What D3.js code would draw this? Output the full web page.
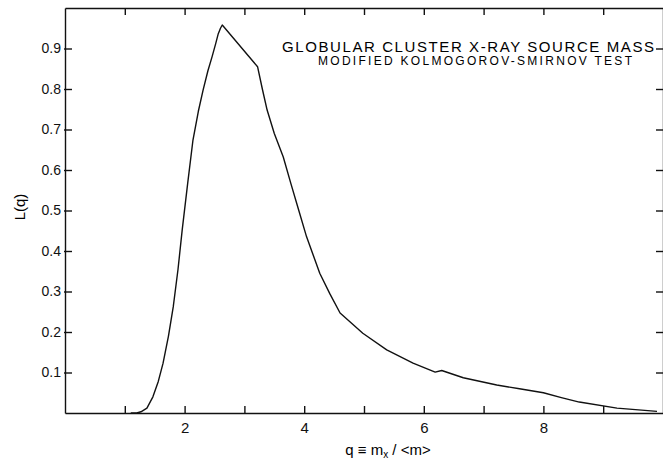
<!DOCTYPE html>
<html>
<head>
<meta charset="utf-8">
<script src="https://cdn.jsdelivr.net/npm/d3@7"></script>
<style>
  body { margin: 0; background: #fff; }
  svg { font-family: 'Liberation Sans', Arial, sans-serif; }
  .axis path, .axis line { stroke: #111; stroke-width: 1.4; }
  .axis text { fill: #111; }
</style>
</head>
<body>
<div id="chart"></div>
<script>
// values
const qValues = [1.10, 1.20, 1.27, 1.37, 1.47, 1.56, 1.64, 1.73, 1.81, 1.89, 1.96, 2.05, 2.14, 2.23, 2.31, 2.39, 2.46, 2.52, 2.56, 2.60, 2.63,
  3.22, 3.30, 3.38, 3.50, 3.65, 3.78, 3.90, 4.04, 4.15, 4.26, 4.43, 4.60,
  4.98, 5.38, 5.82, 6.19, 6.30, 6.66, 7.22, 7.60, 8.00, 8.30, 8.60, 9.23, 9.90];
const lValues = [0.000, 0.000, 0.003, 0.012, 0.040, 0.078, 0.123, 0.190, 0.262, 0.355, 0.452, 0.565, 0.674, 0.745, 0.798, 0.845, 0.880, 0.912, 0.935, 0.950, 0.958,
  0.855, 0.800, 0.748, 0.690, 0.632, 0.565, 0.505, 0.435, 0.390, 0.345, 0.294, 0.247,
  0.197, 0.156, 0.123, 0.101, 0.105, 0.087, 0.069, 0.060, 0.050, 0.038, 0.027, 0.012, 0.004];

const xTicks = [1, 2, 3, 4, 5, 6, 7, 8, 9];
const xLabels = [2, 4, 6, 8];
const yTicks = [0.1, 0.2, 0.3, 0.4, 0.5, 0.6, 0.7, 0.8, 0.9];

const title = 'GLOBULAR CLUSTER X-RAY SOURCE MASS';
const subtitle = 'MODIFIED KOLMOGOROV-SMIRNOV TEST';

const width = 663;
const height = 461;
const dim = { left: 65, right: 663, top: 8, bottom: 413, tick: 7 };

const svg = d3.select('#chart').append('svg')
  .attr('width', width)
  .attr('height', height);

const x = d3.scaleLinear().domain([0, 10]).range([dim.left, dim.right]);
const y = d3.scaleLinear().domain([0, 1]).range([dim.bottom, dim.top]);

// axes, ticks pointing inward on all four sides
svg.append('g')
  .attr('class', 'axis')
  .attr('transform', `translate(0, ${dim.bottom})`)
  .call(d3.axisBottom(x).tickValues(xTicks).tickSize(-dim.tick).tickSizeOuter(0).tickPadding(9)
    .tickFormat(d => xLabels.includes(d) ? d : ''))
  .call(g => g.selectAll('text').style('font-size', '15px'));

svg.append('g')
  .attr('class', 'axis')
  .attr('transform', `translate(0, ${dim.top})`)
  .call(d3.axisTop(x).tickValues(xTicks).tickSize(-dim.tick).tickSizeOuter(0).tickFormat(''));

svg.append('g')
  .attr('class', 'axis')
  .attr('transform', `translate(${dim.left}, 0)`)
  .call(d3.axisLeft(y).tickValues(yTicks).tickSize(-dim.tick).tickSizeOuter(0).tickPadding(4)
    .tickFormat(d3.format('.1f')))
  .call(g => g.selectAll('text').style('font-size', '14px'))
  .call(g => g.selectAll('.tick line').attr('x1', -1));

svg.append('g')
  .attr('class', 'axis')
  .attr('transform', `translate(${dim.right}, 0)`)
  .call(d3.axisRight(y).tickValues(yTicks).tickSize(-dim.tick).tickSizeOuter(0).tickFormat(''));

// curve
const line = d3.line()
  .x((d, i) => x(qValues[i]))
  .y(d => y(d))
  .curve(d3.curveLinear);

svg.append('path')
  .datum(lValues)
  .attr('d', line)
  .attr('fill', 'none')
  .attr('stroke', '#111')
  .attr('stroke-width', 1.4)
  .attr('stroke-linejoin', 'round');

// titles
svg.append('text')
  .attr('x', 282)
  .attr('y', 52)
  .attr('textLength', 372)
  .attr('lengthAdjust', 'spacing')
  .style('font-size', '15px')
  .text(title);

svg.append('text')
  .attr('x', 318)
  .attr('y', 65)
  .attr('textLength', 314)
  .attr('lengthAdjust', 'spacing')
  .style('font-size', '12px')
  .text(subtitle);

// axis titles
svg.append('text')
  .attr('transform', 'translate(25, 207) rotate(-90)')
  .attr('text-anchor', 'middle')
  .style('font-size', '15px')
  .text('L(q)');

const xTitle = svg.append('text')
  .attr('x', 388)
  .attr('y', 455)
  .attr('text-anchor', 'middle')
  .style('font-size', '15px');
xTitle.append('tspan').text('q \u2261 m');
xTitle.append('tspan').attr('dy', 3).style('font-size', '10px').text('x');
xTitle.append('tspan').attr('dy', -3).text(' / <m>');
</script>
</body>
</html>
